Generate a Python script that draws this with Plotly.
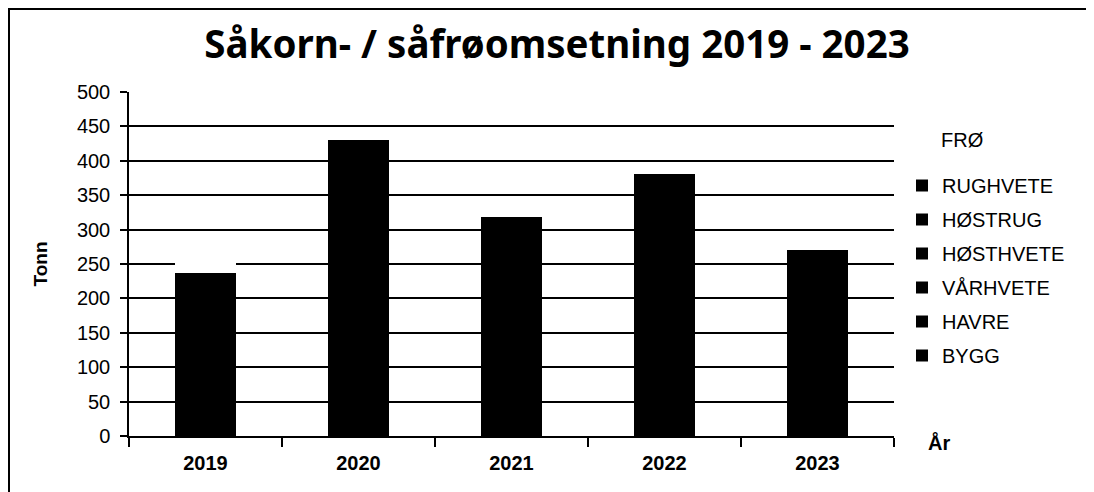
import plotly.graph_objects as go

years = ["2019", "2020", "2021", "2022", "2023"]
bygg = [110, 190, 145, 170, 125]
havre = [60, 110, 80, 95, 68]
varhvete = [35, 70, 50, 60, 42]
hosthvete = [20, 40, 28, 37, 24]
hostrug = [7, 12, 9, 11, 7]
rughvete = [5, 8, 6, 8, 5]
fro = [20, 10, 15, 10, 15]

series = [
    ("BYGG", bygg, "black"),
    ("HAVRE", havre, "black"),
    ("VÅRHVETE", varhvete, "black"),
    ("HØSTHVETE", hosthvete, "black"),
    ("HØSTRUG", hostrug, "black"),
    ("RUGHVETE", rughvete, "black"),
]

fig = go.Figure()
n = len(series)
for i, (name, vals, col) in enumerate(series):
    fig.add_trace(go.Bar(x=years, y=vals, name=name, legendgroup=name,
                         legendrank=n - i,
                         marker=dict(color=col, line=dict(width=0))))
fig.add_trace(go.Bar(x=years, y=fro, name="FRØ", showlegend=False,
                     marker=dict(color="white", line=dict(width=0))))

# page offset from default body margin
OFF = 8
W, H = 1094, 492
# target plot area in page pixels
PL, PR, PT, PB = 129, 894, 92, 436
L = PL - OFF
T = PT - OFF
R = W - (PR - OFF)
B = H - (PB - OFF)
pw = PR - PL
ph = PB - PT

def px(x):
    return (x - PL) / pw

def py(y):
    return (PB - y) / ph

fig.update_layout(
    width=W, height=H,
    margin=dict(l=L, r=R, t=T, b=B),
    paper_bgcolor="white", plot_bgcolor="white",
    barmode="stack", bargap=0.6,
    font=dict(family="Liberation Sans, Arial", size=20, color="black"),
    title=dict(text="<b>Såkorn- / såfrøomsetning 2019 - 2023</b>",
               font=dict(family="Noto Sans", size=38.5, color="black"),
               x=px(557), xref="paper", xanchor="center",
               yref="container", y=1 - (45 - OFF) / H, yanchor="middle"),
    showlegend=True,
    legend=dict(x=px(902), xanchor="left", y=py(166), yanchor="top",
                traceorder="grouped", tracegroupgap=5,
                font=dict(size=20), bgcolor="rgba(0,0,0,0)"),
    xaxis=dict(showline=True, linecolor="black", linewidth=1.5,
               ticks="outside", tickson="boundaries", ticklen=9,
               tickcolor="black", tickwidth=1.5, automargin=False,
               ticklabelstandoff=8,
               tickfont=dict(size=20, family="Liberation Sans, Arial", weight="bold"),
               showgrid=False),
    yaxis=dict(range=[0, 500], dtick=50, showline=True, linecolor="black",
               linewidth=1.5, ticks="outside", ticklen=7, tickcolor="black",
               tickwidth=1.5, showgrid=True, gridcolor="black", gridwidth=1.8,
               zeroline=False, tickfont=dict(size=20), automargin=False,
               ticklabelstandoff=6,
               title=dict(text="<b>Tonn</b>", font=dict(size=19), standoff=24)),
    shapes=[dict(type="rect", xref="paper", yref="paper",
                 x0=px(9), x1=px(1088), y0=py(497), y1=py(9),
                 line=dict(color="black", width=2), layer="above")],
    annotations=[
        dict(text="FRØ", xref="paper", yref="paper", x=px(939), y=py(140),
             xanchor="left", yanchor="middle", showarrow=False,
             font=dict(size=20)),
        dict(text="<b>År</b>", xref="paper", yref="paper", x=px(926), y=py(442),
             xanchor="left", yanchor="middle", showarrow=False,
             font=dict(size=20)),
    ],
)

fig.write_html("out.html")
